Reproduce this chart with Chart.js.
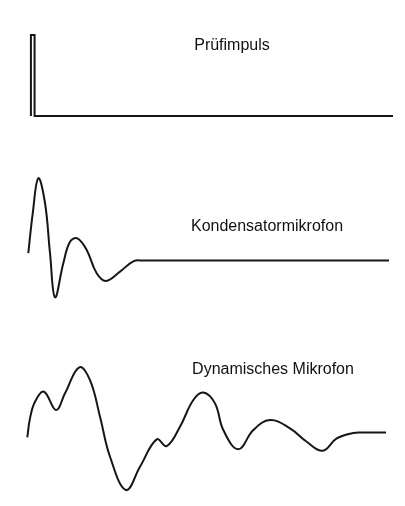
<!DOCTYPE html>
<html>
<head>
<meta charset="utf-8">
<script src="https://cdn.jsdelivr.net/npm/chart.js@4/dist/chart.umd.min.js"></script>
<style>
  html, body { margin: 0; padding: 0; background: #fff; }
  #wrap { position: relative; width: 405px; height: 506px; }
  canvas { position: absolute; left: 0; top: 0; }
  .lbl { position: absolute; font-family: "Liberation Sans", Arial, sans-serif; font-size: 16px; color: #111; white-space: nowrap; transform: translate(-50%, -50%); line-height: 1; }
</style>
</head>
<body>
<div id="wrap">
  <canvas id="c" width="405" height="506"></canvas>
  <div class="lbl" id="l1" style="left:232px; top:45px;"></div>
  <div class="lbl" id="l2" style="left:267px; top:226px;"></div>
  <div class="lbl" id="l3" style="left:273px; top:369px;"></div>
</div>
<script>
// Panel titles
const panelTitles = ["Prüfimpuls", "Kondensatormikrofon", "Dynamisches Mikrofon"];

// Test impulse (time, amplitude)
const impulseTime  = [0.8, 0.8, 1.8, 1.8, 100];
const impulseValue = [0, 1, 1, 0, 0];

// Condenser microphone response
const condenserTime  = [0.08, 1.29, 2.82, 4.66, 6.03, 7.40, 9.67, 11.51, 13.51, 16.08, 18.82, 21.37, 25.21, 28.85, 31.5, 40, 90, 98.9];
const condenserValue = [0.09, 0.58, 1.015, 0.71, 0.09, -0.454, -0.035, 0.232, 0.274, 0.13, -0.158, -0.253, -0.138, -0.01, 0, 0, 0, 0];

// Dynamic microphone response
const dynamicTime  = [-0.19, 0.55, 1.92, 4.38, 7.67, 10.14, 14.05, 16.99, 19.73, 22.47, 26.85, 30.68, 35.26, 38.0, 41.64, 45.29, 48.03, 51.23, 53.51, 57.62, 61.73, 66.30, 71.78, 76.36, 80.74, 84.58, 89.12, 92, 98.08];
const dynamicValue = [-0.059, 0.175, 0.38, 0.504, 0.278, 0.484, 0.805, 0.648, 0.195, -0.299, -0.71, -0.422, -0.084, -0.167, 0.072, 0.401, 0.494, 0.36, 0.031, -0.207, 0.031, 0.154, 0.052, -0.114, -0.225, -0.072, -0.005, 0, 0];

document.getElementById('l1').textContent = panelTitles[0];
document.getElementById('l2').textContent = panelTitles[1];
document.getElementById('l3').textContent = panelTitles[2];

const pts = (xs, ys) => xs.map((x, i) => ({ x: x, y: ys[i] }));
const ink = '#161616';

new Chart(document.getElementById('c'), {
  type: 'scatter',
  data: {
    datasets: [
      { label: panelTitles[0], data: pts(impulseTime, impulseValue), yAxisID: 'ya',
        showLine: true, borderColor: ink, borderWidth: 2, pointRadius: 0, tension: 0, borderJoinStyle: 'miter' },
      { label: panelTitles[1], data: pts(condenserTime, condenserValue), yAxisID: 'yb',
        showLine: true, borderColor: ink, borderWidth: 2, pointRadius: 0, tension: 0.4 },
      { label: panelTitles[2], data: pts(dynamicTime, dynamicValue), yAxisID: 'yc',
        showLine: true, borderColor: ink, borderWidth: 2, pointRadius: 0, tension: 0.4 }
    ]
  },
  options: {
    responsive: false,
    animation: false,
    devicePixelRatio: 1,
    layout: { padding: 0 },
    plugins: { legend: { display: false }, tooltip: { enabled: false }, title: { display: false } },
    scales: {
      x:  { type: 'linear', display: false, min: -7.671, max: 103.288 },
      ya: { type: 'linear', display: false, min: -4.815, max: 1.432 },
      yb: { type: 'linear', display: false, min: -3.031, max: 3.216 },
      yc: { type: 'linear', display: false, min: -0.907, max: 5.340 }
    }
  }
});
</script>
</body>
</html>
